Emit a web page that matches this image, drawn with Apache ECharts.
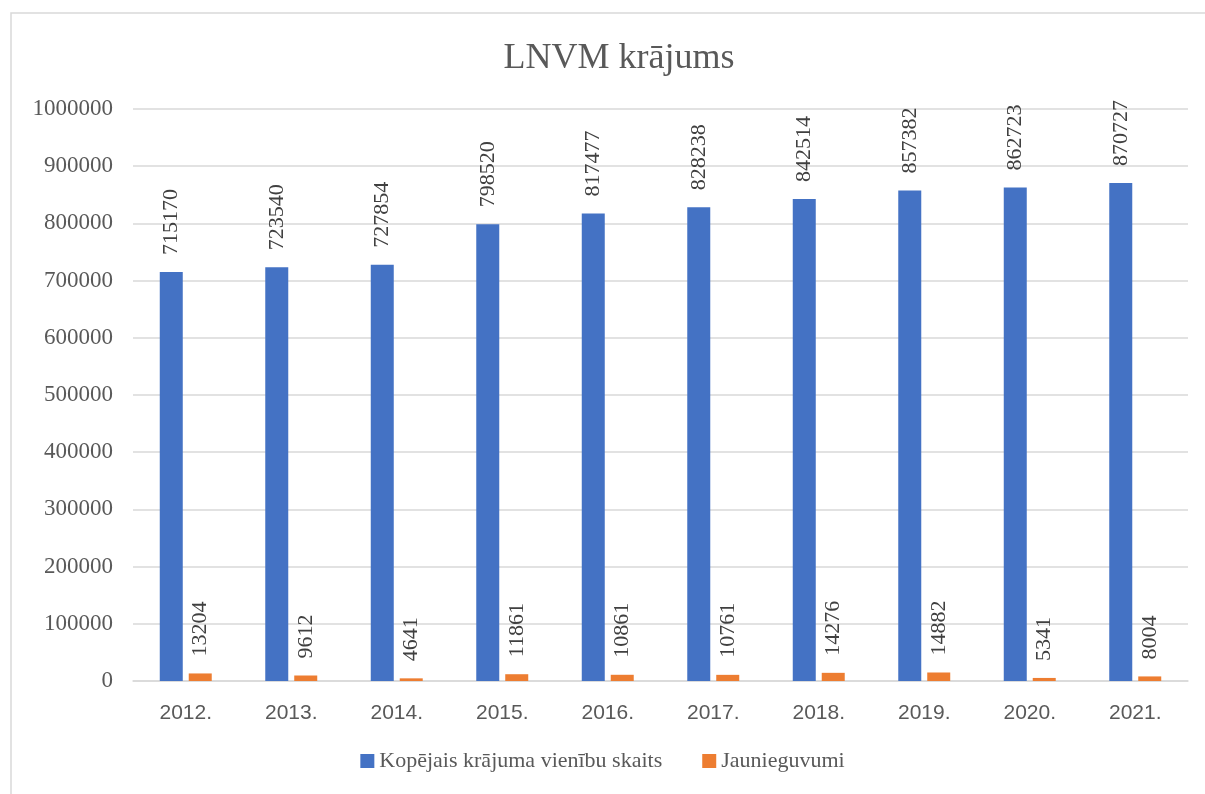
<!DOCTYPE html>
<html>
<head>
<meta charset="utf-8">
<script src="https://cdn.jsdelivr.net/npm/echarts@6/dist/echarts.min.js"></script>
<style>
  html, body { margin: 0; padding: 0; background: #fff; }
  #main { width: 1205px; height: 794px; }
</style>
</head>
<body>
<div id="main"></div>
<script type="text/javascript">
    // dati no attēla
    var years = ['2012.', '2013.', '2014.', '2015.', '2016.', '2017.', '2018.', '2019.', '2020.', '2021.'];
    var kopejais = [715170, 723540, 727854, 798520, 817477, 828238, 842514, 857382, 862723, 870727];
    var jaunieguvumi = [13204, 9612, 4641, 11861, 10861, 10761, 14276, 14882, 5341, 8004];

    var serif = 'Liberation Serif';
    var myChart = echarts.init(document.getElementById('main'));

    function barLabel() {
        return {
            show: true,
            position: 'top',
            rotate: 90,
            align: 'left',
            verticalAlign: 'middle',
            distance: 17,
            color: '#404040',
            fontFamily: serif,
            fontSize: 22
        };
    }

    option = {
        animation: false,
        backgroundColor: '#fff',
        textStyle: { fontFamily: serif },
        graphic: [{
            type: 'rect',
            shape: { x: 11, y: 13, width: 1210, height: 800 },
            style: { fill: 'none', stroke: '#d9d9d9', lineWidth: 1.5 }
        }],
        title: {
            text: 'LNVM krājums',
            left: 614,
            textAlign: 'center',
            top: 36,
            textStyle: {
                fontFamily: serif,
                fontSize: 36,
                fontWeight: 'normal',
                color: '#595959'
            }
        },
        legend: {
            bottom: 17,
            left: 'center',
            itemWidth: 14,
            itemHeight: 14,
            itemGap: 40,
            icon: 'rect',
            textStyle: {
                fontFamily: serif,
                fontSize: 22,
                color: '#595959'
            },
            data: ['Kopējais krājuma vienību skaits', 'Jaunieguvumi']
        },
        grid: {
            left: 133,
            right: 17,
            top: 109,
            bottom: 113
        },
        xAxis: {
            type: 'category',
            data: years,
            axisTick: { show: false },
            axisLine: { lineStyle: { color: '#d9d9d9', width: 1.5 } },
            axisLabel: {
                margin: 22,
                fontFamily: 'Liberation Sans',
                fontSize: 21,
                color: '#595959'
            }
        },
        yAxis: {
            type: 'value',
            min: 0,
            max: 1000000,
            interval: 100000,
            axisLine: { show: false },
            axisTick: { show: false },
            splitLine: { lineStyle: { color: '#d9d9d9', width: 1.5 } },
            axisLabel: {
                margin: 20,
                fontFamily: serif,
                fontSize: 23,
                color: '#595959',
                formatter: function (v) { return String(v); }
            }
        },
        series: [
            {
                name: 'Kopējais krājuma vienību skaits',
                type: 'bar',
                data: kopejais,
                barWidth: 23,
                barGap: '26%',
                itemStyle: { color: '#4472C4' },
                label: barLabel()
            },
            {
                name: 'Jaunieguvumi',
                type: 'bar',
                data: jaunieguvumi,
                barWidth: 23,
                itemStyle: { color: '#ED7D31' },
                label: barLabel()
            }
        ]
    };
    myChart.setOption(option);
</script>
</body>
</html>
